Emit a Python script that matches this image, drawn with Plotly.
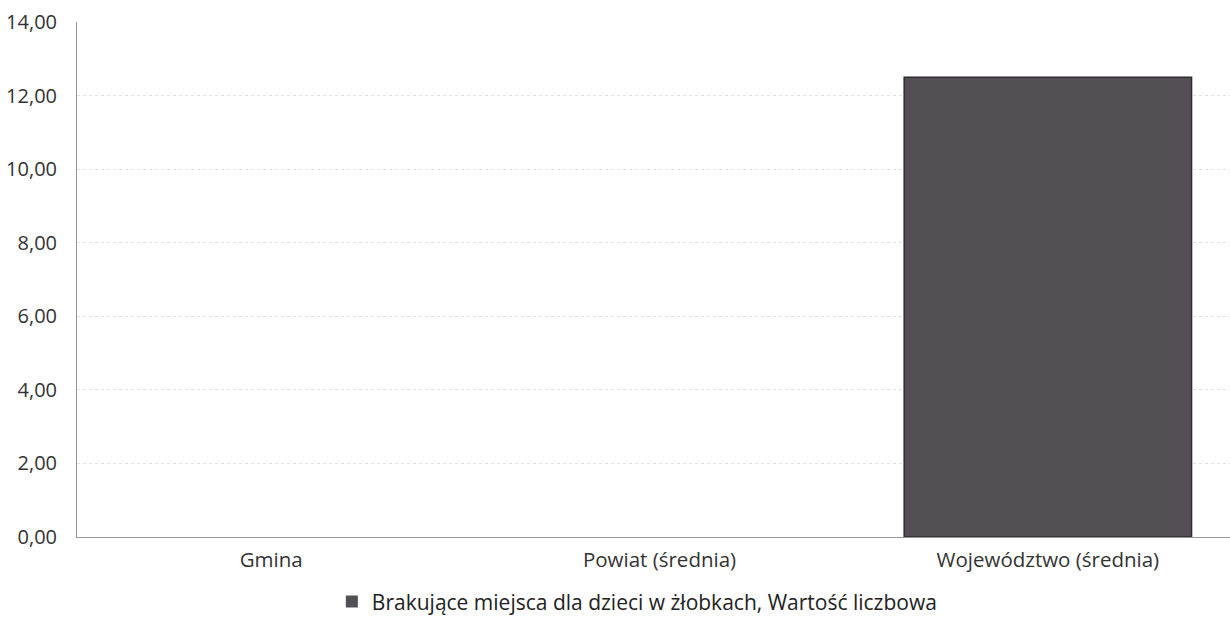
import plotly.graph_objects as go

categories = ["Gmina", "Powiat (średnia)", "Województwo (średnia)"]
values = [0, 0, 12.5]
series_name = "Brakujące miejsca dla dzieci w żłobkach, Wartość liczbowa"
y_ticks = [0, 2, 4, 6, 8, 10, 12, 14]

fig = go.Figure()
fig.add_trace(go.Bar(
    x=categories,
    y=values,
    name=series_name,
    marker=dict(
        color="#535055",
        line=dict(color="#2e2a2e", width=[1.5 if v > 0 else 0 for v in values]),
    ),
    showlegend=True,
))

fig.update_layout(
    width=1230,
    height=617,
    margin=dict(l=77, r=0, t=22, b=80, autoexpand=False),
    paper_bgcolor="white",
    plot_bgcolor="white",
    separators=", ",
    bargap=0.26,
    font=dict(family="Open Sans", size=20.5, color="#333333"),
    legend=dict(
        orientation="h",
        x=0.486, xanchor="center",
        y=-0.126, yanchor="middle",
        font=dict(size=21, color="#222222"),
        itemwidth=30,
    ),
    xaxis=dict(
        range=[-0.5, 2.469],
        showline=True,
        linecolor="#999999",
        linewidth=1,
        showgrid=False,
        ticks="",
        ticklabelstandoff=4,
        tickfont=dict(size=20.5, color="#333333"),
    ),
    yaxis=dict(
        range=[0, 14],
        tickvals=y_ticks,
        tickformat=".2f",
        showline=True,
        linecolor="#999999",
        linewidth=1,
        showgrid=True,
        gridcolor="#e2e2e2",
        griddash="dot",
        gridwidth=1,
        zeroline=False,
        ticks="",
        ticklabelstandoff=15,
        tickfont=dict(size=20, color="#333333"),
    ),
)

fig.write_html(
    "out.html",
    config={"displayModeBar": False},
    post_script="document.body.style.margin='0';document.body.style.overflow='hidden';",
)
